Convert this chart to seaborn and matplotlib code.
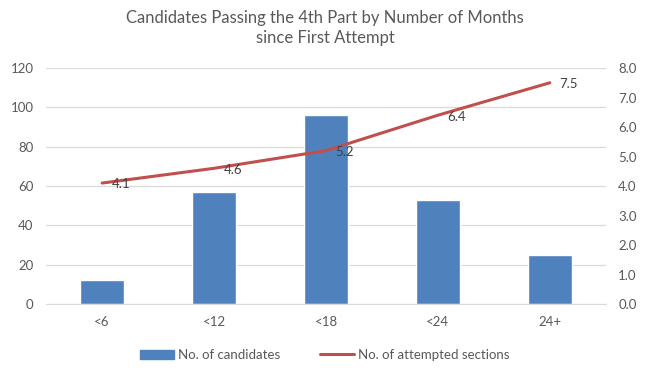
import numpy as np
import pandas as pd
import matplotlib.pyplot as plt
import seaborn as sns
from matplotlib.patches import Patch
from matplotlib.lines import Line2D

# Data
months = ['<6', '<12', '<18', '<24', '24+']
candidates = [12, 57, 96, 53, 25]
sections = [4.1, 4.6, 5.2, 6.4, 7.5]

bar_color = '#4F81BD'
line_color = '#C0504D'
text_color = '#595959'

sns.set_style('white')
plt.rcParams['font.family'] = ['Lato', 'DejaVu Sans']

df = pd.DataFrame({'months': months, 'candidates': candidates})

fig = plt.figure(figsize=(6.5, 3.8), dpi=100)
ax = fig.add_axes([0.071, 0.2, 0.861, 0.621])

sns.barplot(data=df, x='months', y='candidates', color=bar_color,
            width=0.39, saturation=1, ax=ax)
ax.set_ylim(0, 120)
ax.set_yticks(range(0, 121, 20))
ax.set_xlim(-0.5, len(months) - 0.5)
ax.grid(axis='y', color='#D9D9D9', linewidth=0.9)
ax.set_axisbelow(True)
ax.set_xlabel('')
ax.set_ylabel('')
for s in ['top', 'left', 'right']:
    ax.spines[s].set_visible(False)
ax.spines['bottom'].set_color('#D9D9D9')
ax.tick_params(axis='both', colors=text_color, labelsize=9.5, length=0, pad=9)

ax2 = ax.twinx()
sns.lineplot(x=np.arange(len(months)), y=sections, color=line_color,
             linewidth=2.2, ax=ax2)
ax2.set_ylim(0, 8)
ax2.set_yticks(np.arange(0, 8.1, 1))
ax2.set_yticklabels([f'{v:.1f}' for v in np.arange(0, 8.1, 1)])
ax2.set_xlim(-0.5, len(months) - 0.5)
for s in ax2.spines.values():
    s.set_visible(False)
ax2.tick_params(axis='y', colors=text_color, labelsize=9.5, length=0, pad=9)
ax2.set_ylabel('')

for i, v in enumerate(sections):
    ax2.annotate(f'{v:.1f}', (i, v), xytext=(7, -1), textcoords='offset points',
                 ha='left', va='center', fontsize=9.5, color='#404040')

fig.suptitle('Candidates Passing the 4th Part by Number of Months\nsince First Attempt',
             y=0.975, fontsize=12, color=text_color, linespacing=1.35)

handles = [Patch(color=bar_color), Line2D([], [], color=line_color, linewidth=2.2)]
fig.legend(handles, ['No. of candidates', 'No. of attempted sections'],
           loc='center', bbox_to_anchor=(0.5, 0.066), ncol=2, frameon=False,
           fontsize=9.5, labelcolor=text_color, handlelength=2.6,
           handletextpad=0.3, columnspacing=3)

plt.savefig('out.png', dpi=100)
